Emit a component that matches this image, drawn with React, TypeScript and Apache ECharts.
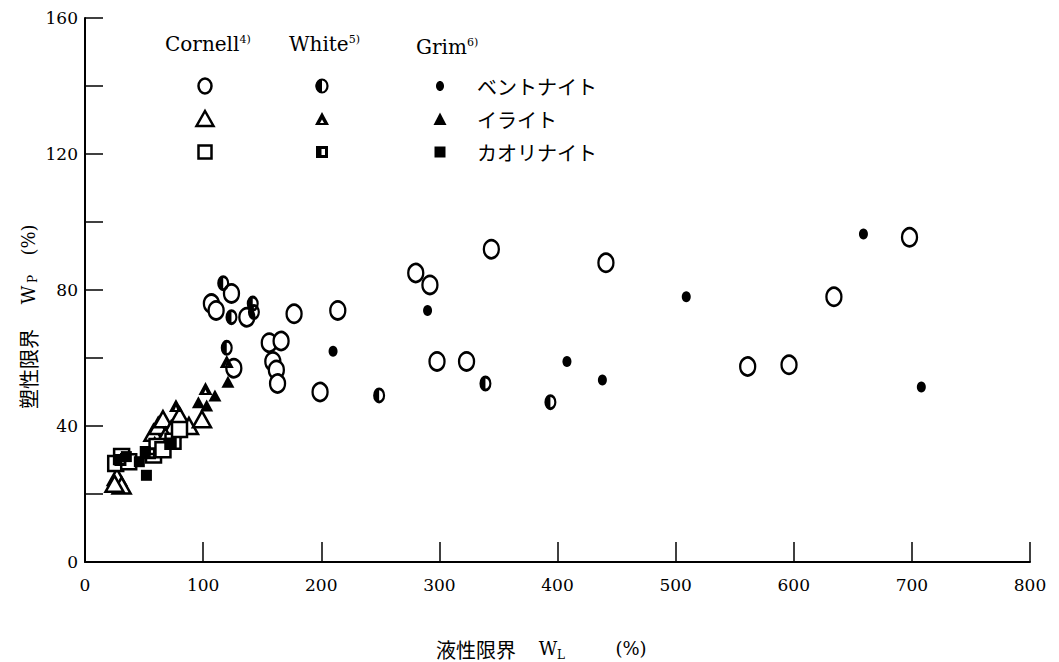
import React, { useEffect, useRef } from "react";
import * as echarts from "echarts";

// ---- data: [liquid limit WL (%), plastic limit WP (%)] ----
const cornellBentonite: number[][] = [
  [107, 76], [111, 74], [124, 79], [137, 72], [177, 73], [156, 64.5], [166, 65],
  [159, 59], [162, 56.5], [163, 52.5], [126, 57], [199, 50], [214, 74], [280, 85],
  [292, 81.5], [344, 92], [298, 59], [323, 59], [441, 88], [561, 57.5], [596, 58],
  [634, 78], [698, 95.5],
];
const whiteBentonite: number[][] = [
  [117, 82], [124, 72], [142, 76], [143, 73.5], [120, 63], [249, 49], [339, 52.5], [394, 47],
];
const grimBentonite: number[][] = [
  [210, 62], [290, 74], [408, 59], [438, 53.5], [509, 78], [659, 96.5], [708, 51.5],
];
const cornellIllite: number[][] = [
  [58, 38], [62, 40], [66, 42], [73, 39], [80, 43], [88, 40], [99, 42], [59, 34],
  [68, 37], [27, 25], [31, 22.5], [25, 23],
];
const whiteIllite: number[][] = [[77, 46], [102, 51], [120, 59]];
const grimIllite: number[][] = [[96, 47], [103, 46], [110, 49], [121, 53]];
const cornellKaolinite: number[][] = [
  [26, 29], [31, 31], [37, 29.5], [58, 31.5], [61, 34], [66, 33], [74.5, 35.5], [80, 39],
];
const whiteKaolinite: number[][] = [[30, 30], [55, 32]];
const grimKaolinite: number[][] = [[35, 31], [46, 29.5], [51, 32.5], [52, 25.5], [73, 35]];

const xTicks = { min: 0, max: 800, interval: 100 };
const yTicks = { min: 0, max: 160, interval: 20, labelEvery: 40 };

const groupHeaders = [
  { name: "Cornell", sup: "4)" },
  { name: "White", sup: "5)" },
  { name: "Grim", sup: "6)" },
];
const mineralNames = ["ベントナイト", "イライト", "カオリナイト"];

const xName = { main: "液性限界", sym: "W", sub: "L", unit: "(%)" };
const yName = { main: "塑性限界", sym: "W", sub: "P", unit: "(%)" };

const SERIF = '"DejaVu Serif", "Liberation Serif", serif';
const CJK = '"Noto Sans CJK JP", sans-serif';

const HALF_CIRCLE =
  "path://M50,0 A50,50 0 0 0 50,100 Z M50,0 A50,50 0 0 1 50,100 L50,82 A32,32 0 0 0 50,18 Z";
const WHITE_TRI = "path://M50,0 L100,100 L0,100 Z M50,58 L40,84 L60,84 Z";
const WHITE_SQ = "path://M0,0 L100,0 L100,100 L0,100 Z M48,25 L48,75 L75,75 L75,25 Z";

export default function App() {
  const ref = useRef<HTMLDivElement>(null);
  useEffect(() => {
    if (!ref.current) return;
    const chart = echarts.init(ref.current, null, { renderer: "svg" });

    const open = { color: "#fff", borderColor: "#000", borderWidth: 2.5, opacity: 1 };
    const solid = { color: "#000", borderWidth: 0, opacity: 1 };

    const s = (name: string, data: number[][], symbol: string, size: any, style: any, z: number) => ({
      name,
      type: "scatter",
      data,
      symbol,
      symbolSize: size,
      itemStyle: style,
      z,
      emphasis: { disabled: true },
    });

    const series = [
      s("Cornell-ベントナイト", cornellBentonite, "circle", [15, 18], open, 2),
      s("Cornell-イライト", cornellIllite, "triangle", [18, 16], open, 2),
      s("Cornell-カオリナイト", cornellKaolinite, "rect", [15, 15], open, 2),
      s("White-ベントナイト", whiteBentonite, HALF_CIRCLE, [12, 16], solid, 3),
      s("White-イライト", whiteIllite, WHITE_TRI, [14, 13], solid, 3),
      s("White-カオリナイト", whiteKaolinite, WHITE_SQ, [12, 12], solid, 3),
      s("Grim-ベントナイト", grimBentonite, "circle", [9, 11], solid, 4),
      s("Grim-イライト", grimIllite, "triangle", [13, 12], solid, 4),
      s("Grim-カオリナイト", grimKaolinite, "rect", [11, 11], solid, 4),
    ];

    const colX = [205, 322, 440];
    const rowY = [86, 119, 152];
    const headerX = [165, 289, 416];
    const graphic: any[] = [];

    groupHeaders.forEach((h, i) => {
      graphic.push({
        type: "text",
        x: headerX[i],
        y: i === 2 ? 47 : 44,
        style: {
          text: h.name + "{sup|" + h.sup + "}",
          fill: "#000",
          fontFamily: SERIF,
          fontSize: 20,
          verticalAlign: "middle",
          rich: { sup: { fontSize: 11, fontFamily: SERIF, verticalAlign: "top", fill: "#000" } },
        },
      });
    });

    // legend symbols
    const [cx0, cx1, cx2] = colX;
    const [r0, r1, r2] = rowY;
    graphic.push(
      { type: "ellipse", shape: { cx: cx0, cy: r0, rx: 6.5, ry: 7.5 }, style: { fill: "#fff", stroke: "#000", lineWidth: 2.5 } },
      { type: "sector", shape: { cx: cx1, cy: r0, r: 6.5, r0: 0, startAngle: Math.PI / 2, endAngle: (3 * Math.PI) / 2 }, style: { fill: "#000" } },
      { type: "ellipse", shape: { cx: cx1, cy: r0, rx: 5.5, ry: 6.5 }, style: { fill: "none", stroke: "#000", lineWidth: 2.2 } },
      { type: "ellipse", shape: { cx: cx2, cy: r0, rx: 4, ry: 5 }, style: { fill: "#000" } },
      { type: "polygon", shape: { points: [[cx0, r1 - 8], [cx0 + 8.5, r1 + 7], [cx0 - 8.5, r1 + 7]] }, style: { fill: "#fff", stroke: "#000", lineWidth: 2.5 } },
      { type: "polygon", shape: { points: [[cx1, r1 - 7], [cx1 + 7, r1 + 6], [cx1 - 7, r1 + 6]] }, style: { fill: "#000" } },
      { type: "polygon", shape: { points: [[cx1, r1 + 0.5], [cx1 + 2, r1 + 4], [cx1 - 2, r1 + 4]] }, style: { fill: "#fff" } },
      { type: "polygon", shape: { points: [[cx2, r1 - 6.5], [cx2 + 6.5, r1 + 6], [cx2 - 6.5, r1 + 6]] }, style: { fill: "#000" } },
      { type: "rect", shape: { x: cx0 - 6.5, y: r2 - 6.5, width: 13, height: 13 }, style: { fill: "#fff", stroke: "#000", lineWidth: 2.5 } },
      { type: "rect", shape: { x: cx1 - 6, y: r2 - 6, width: 12, height: 12 }, style: { fill: "#000" } },
      { type: "rect", shape: { x: cx1 - 0.5, y: r2 - 3, width: 3.5, height: 6 }, style: { fill: "#fff" } },
      { type: "rect", shape: { x: cx2 - 5.5, y: r2 - 5.5, width: 11, height: 11 }, style: { fill: "#000" } }
    );
    mineralNames.forEach((n, i) => {
      graphic.push({
        type: "text",
        x: 477,
        y: rowY[i],
        style: { text: n, fill: "#000", fontFamily: CJK, fontSize: 20, verticalAlign: "middle", align: "left" },
      });
    });

    // axis names
    const rot = Math.PI / 2;
    graphic.push(
      { type: "text", x: 28, y: 369, rotation: rot, style: { text: yName.main, fill: "#000", fontFamily: CJK, fontSize: 20, align: "center", verticalAlign: "middle" } },
      { type: "text", x: 28, y: 295, rotation: rot, style: { text: yName.sym, fill: "#000", fontFamily: SERIF, fontSize: 18, align: "center", verticalAlign: "middle" } },
      { type: "text", x: 33, y: 279, rotation: rot, style: { text: yName.sub, fill: "#000", fontFamily: SERIF, fontSize: 12, align: "center", verticalAlign: "middle" } },
      { type: "text", x: 28, y: 240, rotation: rot, style: { text: yName.unit, fill: "#000", fontFamily: SERIF, fontSize: 18, align: "center", verticalAlign: "middle" } },
      { type: "text", x: 476, y: 649, style: { text: xName.main, fill: "#000", fontFamily: CJK, fontSize: 20, align: "center", verticalAlign: "middle" } },
      { type: "text", x: 548, y: 648, style: { text: xName.sym, fill: "#000", fontFamily: SERIF, fontSize: 18, align: "center", verticalAlign: "middle" } },
      { type: "text", x: 561, y: 655, style: { text: xName.sub, fill: "#000", fontFamily: SERIF, fontSize: 12, align: "center", verticalAlign: "middle" } },
      { type: "text", x: 631, y: 648, style: { text: xName.unit, fill: "#000", fontFamily: SERIF, fontSize: 18, align: "center", verticalAlign: "middle" } }
    );

    chart.setOption({
      animation: false,
      backgroundColor: "#fff",
      grid: { left: 85, right: 29, top: 18, bottom: 100, containLabel: false, outerBoundsMode: "none" },
      xAxis: {
        type: "value",
        min: xTicks.min,
        max: xTicks.max,
        interval: xTicks.interval,
        axisLine: { show: true, onZero: false, lineStyle: { color: "#000", width: 2 } },
        axisTick: { show: true, inside: true, length: 20, lineStyle: { color: "#000", width: 1.5 } },
        axisLabel: { color: "#000", fontFamily: SERIF, fontSize: 17, margin: 14, showMaxLabel: true, showMinLabel: true },
        splitLine: { show: false },
      },
      yAxis: {
        type: "value",
        min: yTicks.min,
        max: yTicks.max,
        interval: yTicks.interval,
        axisLine: { show: true, onZero: false, lineStyle: { color: "#000", width: 2 } },
        axisTick: { show: true, inside: true, length: 18, lineStyle: { color: "#000", width: 1.5 } },
        axisLabel: {
          color: "#000",
          fontFamily: SERIF,
          fontSize: 17,
          margin: 7,
          formatter: (v: number) => (v % yTicks.labelEvery === 0 ? String(v) : ""),
        },
        splitLine: { show: false },
      },
      series,
      graphic,
    });
    return () => chart.dispose();
  }, []);
  return (
    <div
      ref={ref}
      style={{ position: "fixed", left: 0, top: 0, width: 1059, height: 662, background: "#fff" }}
    />
  );
}
